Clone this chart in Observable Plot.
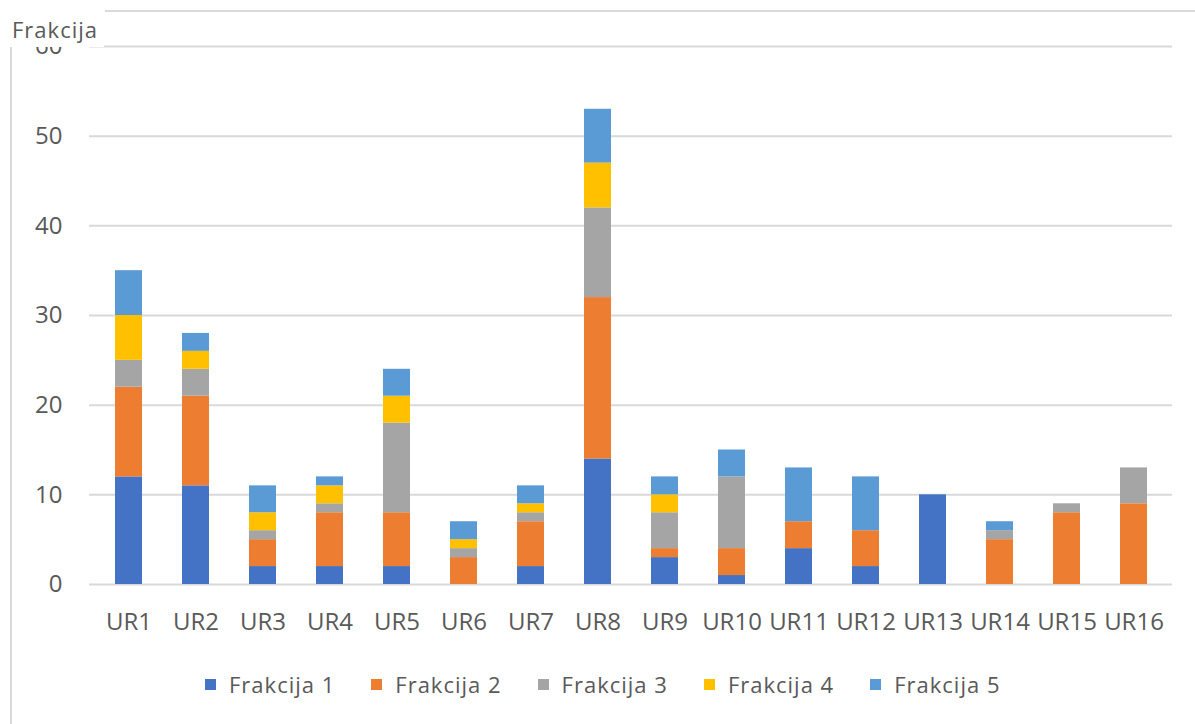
<!DOCTYPE html>
<html><head><meta charset="utf-8">
<script src="https://cdn.jsdelivr.net/npm/d3@7"></script>
<script src="https://cdn.jsdelivr.net/npm/@observablehq/plot@0.6"></script>
<style>
body{margin:0;background:#fff;}
#wrap{position:relative;width:1195px;height:724px;overflow:hidden;font-family:"Open Sans",sans-serif;background:#fff;}
#chart{position:absolute;left:0;top:0;}
#topline{position:absolute;left:105px;top:10px;width:1090px;height:2px;background:#d9d9d9;}
#leftline{position:absolute;left:10px;top:47px;width:2px;height:677px;background:#d9d9d9;}
#ytitle{position:absolute;left:0;top:0;width:104px;height:47px;background:#fff;color:#595959;font-size:22px;line-height:22px;letter-spacing:1px;box-sizing:border-box;padding:18px 0 0 12px;}
#legend{position:absolute;left:205px;top:669px;display:flex;align-items:center;font-size:22px;line-height:30px;letter-spacing:1px;color:#595959;}
.item{display:flex;align-items:center;margin-right:36px;}
.sw{width:11px;height:11px;margin-right:13px;}
</style></head><body>
<div id="wrap">
<div id="chart"></div>
<div id="topline"></div>
<div id="leftline"></div>
<div id="ytitle">Frakcija</div>
<div id="legend"></div>
</div>
<script>
const categories = ["UR1","UR2","UR3","UR4","UR5","UR6","UR7","UR8","UR9","UR10","UR11","UR12","UR13","UR14","UR15","UR16"];
const seriesNames = ["Frakcija 1","Frakcija 2","Frakcija 3","Frakcija 4","Frakcija 5"];
const frakcija1 = [12,11,2,2,2,0,2,14,3,1,4,2,10,0,0,0];
const frakcija2 = [10,10,3,6,6,3,5,18,1,3,3,4,0,5,8,9];
const frakcija3 = [3,3,1,1,10,1,1,10,4,8,0,0,0,1,1,4];
const frakcija4 = [5,2,2,2,3,1,1,5,2,0,0,0,0,0,0,0];
const frakcija5 = [5,2,3,1,3,2,2,6,2,3,6,6,0,1,0,0];
const seriesColors = ["#4472C4","#ED7D31","#A5A5A5","#FFC000","#5B9BD5"];
const yTicks = [0,10,20,30,40,50,60];

const allSeries = [frakcija1,frakcija2,frakcija3,frakcija4,frakcija5];
const data = [];
allSeries.forEach((vals, si) => {
  vals.forEach((v, ci) => data.push({cat: categories[ci], series: seriesNames[si], value: v}));
});

const chart = Plot.plot({
  width: 1195,
  height: 660,
  marginTop: 46,
  marginBottom: 76,
  marginLeft: 89,
  marginRight: 23,
  style: {fontFamily: '"Open Sans", sans-serif', fontSize: "24px", color: "#595959", background: "transparent"},
  x: {domain: categories, paddingInner: 0.6, paddingOuter: 0.3, label: null},
  y: {domain: [0, 60], label: null},
  color: {domain: seriesNames, range: seriesColors},
  marks: [
    Plot.gridY(yTicks, {stroke: "#d9d9d9", strokeOpacity: 1, strokeWidth: 2}),
    Plot.barY(data, {x: "cat", y: "value", fill: "series", order: seriesNames}),
    Plot.axisY(yTicks, {tickSize: 0, tickPadding: 27, label: null, fill: "#595959", fontSize: 24}),
    Plot.axisX({tickSize: 0, tickPadding: 28, label: null, fill: "#595959", fontSize: 24})
  ]
});
document.getElementById("chart").appendChild(chart);

const legend = document.getElementById("legend");
seriesNames.forEach((name, i) => {
  const it = document.createElement("div");
  it.className = "item";
  const sw = document.createElement("div");
  sw.className = "sw";
  sw.style.background = seriesColors[i];
  const tx = document.createElement("span");
  tx.textContent = name;
  it.appendChild(sw); it.appendChild(tx);
  legend.appendChild(it);
});
</script>
</body></html>
